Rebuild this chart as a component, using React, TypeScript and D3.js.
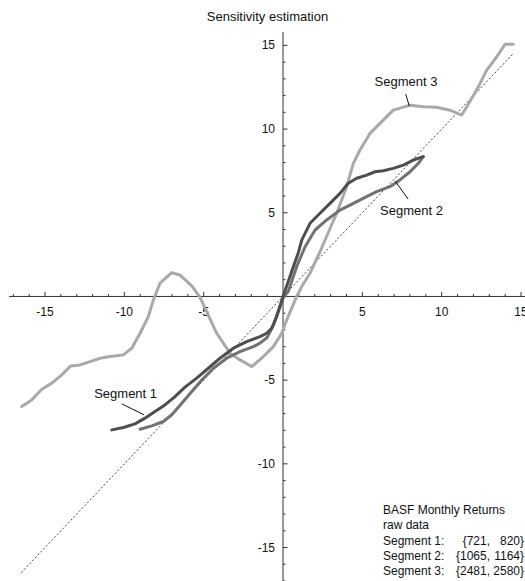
import React from 'react';
import * as d3 from 'd3';

// Sensitivity curves, [x, y] in percent returns
const segment1: [number, number][] = [
  [-10.79, -7.97], [-10.06, -7.83], [-9.33, -7.61], [-8.7, -7.27], [-8.07, -6.88],
  [-7.44, -6.48], [-6.81, -5.98], [-6.18, -5.42], [-5.44, -4.88], [-4.71, -4.29],
  [-3.97, -3.69], [-3.13, -3.09], [-2.29, -2.7], [-1.45, -2.4], [-1.03, -2.2],
  [-0.71, -1.9], [-0.4, -1.2], [0, 0], [0.65, 1.78], [0.96, 2.6], [1.18, 3.37],
  [1.7, 4.37], [2.33, 4.97], [2.96, 5.56], [3.59, 6.16], [4.11, 6.76], [4.64, 7.06],
  [5.27, 7.25], [5.8, 7.45], [6.32, 7.51], [6.95, 7.65], [7.58, 7.85], [8.21, 8.15],
  [8.84, 8.35],
];

const segment2: [number, number][] = [
  [-9.01, -7.93], [-8.27, -7.73], [-7.54, -7.47], [-7.01, -7.07], [-6.38, -6.38],
  [-5.75, -5.68], [-5.12, -4.99], [-4.39, -4.29], [-3.55, -3.69], [-2.71, -3.3],
  [-1.87, -3.0], [-1.45, -2.79], [-1.0, -2.45], [-0.6, -1.7], [-0.3, -0.9],
  [0, -0.1], [0.33, 0.3], [0.86, 1.78], [1.39, 2.97], [2.02, 3.97], [2.75, 4.57],
  [3.59, 5.16], [4.43, 5.56], [5.27, 5.96], [5.9, 6.26], [6.74, 6.56], [7.37, 6.96],
  [8.0, 7.45], [8.53, 7.95], [8.84, 8.35],
];

const segment3: [number, number][] = [
  [-16.47, -6.58], [-15.84, -6.18], [-15.2, -5.54], [-14.57, -5.18], [-13.95, -4.69],
  [-13.38, -4.15], [-12.79, -4.09], [-12.16, -3.89], [-11.53, -3.69], [-10.9, -3.59],
  [-10.06, -3.49], [-9.53, -3.09], [-9.01, -2.2], [-8.49, -1.2], [-8.17, -0.21],
  [-7.75, 0.79], [-7.01, 1.42], [-6.49, 1.28], [-5.75, 0.63], [-5.23, -0.06],
  [-4.18, -2.2], [-3.34, -3.39], [-2.71, -3.79], [-1.97, -4.19], [-1.24, -3.59],
  [-0.61, -3.0], [-0.08, -2.2], [0.23, -1.4], [0.55, -0.7], [0.86, 0], [1.18, 0.59],
  [1.7, 1.39], [2.33, 2.67], [2.8, 3.7], [3.38, 4.97], [4.01, 6.56], [4.43, 7.95],
  [4.85, 8.75], [5.48, 9.74], [6.11, 10.34], [6.95, 11.13], [8.0, 11.43], [8.84, 11.33],
  [9.68, 11.3], [10.52, 11.13], [11.26, 10.84], [11.58, 11.33], [12.2, 12.33],
  [12.84, 13.52], [13.47, 14.32], [13.99, 15.07], [14.51, 15.07],
];

const segmentNames = ['Segment 1', 'Segment 2', 'Segment 3'];
const segmentRanges: [number, number][] = [[721, 820], [1065, 1164], [2481, 2580]];
const segmentColors = ['#4e4e4e', '#727272', '#a9a9a9'];

// Callouts: label centre and leader line, in data coordinates
const callouts = [
  { label: [-9.92, -5.82], from: [-10.16, -6.42], to: [-8.76, -7.07] },
  { label: [8.1, 5.12], from: [7.88, 5.82], to: [7.06, 6.9] },
  { label: [7.75, 12.82], from: [7.73, 12.09], to: [7.96, 11.37] },
];

const majorTicks = [-15, -10, -5, 5, 10, 15];
const diagonalExtent = [-16.5, 14.5];
const title = 'Sensitivity estimation';
const noteLines = ['BASF Monthly Returns', 'raw data'];

const W = 525;
const H = 581;
const FONT = '"Liberation Sans", Arial, sans-serif';

export default function App() {
  const x = d3.scaleLinear().domain([-17.27, 15.25]).range([9, 525]);
  const y = d3.scaleLinear().domain([-17, 15.8]).range([581, 32]);
  const line = d3
    .line<[number, number]>()
    .x((d) => x(d[0]))
    .y((d) => y(d[1]));

  const x0 = x(0);
  const y0 = y(0);
  const xMinor = d3.range(Math.ceil(x.domain()[0]), Math.floor(x.domain()[1]) + 1).filter((v) => v !== 0);
  const yMinor = d3.range(Math.ceil(y.domain()[0]), Math.floor(y.domain()[1]) + 1).filter((v) => v !== 0);
  const isMajor = (v: number) => majorTicks.includes(v);

  const segments = [segment1, segment2, segment3];
  const rowStart = 510;
  const rowStep = 15.25;

  return (
    <svg
      width={W}
      height={H}
      style={{ position: 'absolute', left: 0, top: 0, background: '#fff' }}
      fontFamily={FONT}
      fontSize={12}
    >
      <text x={267.5} y={21} textAnchor="middle" fill="#111" fontSize={13}>{title}</text>

      {/* axes */}
      <line x1={x.range()[0]} x2={x.range()[1]} y1={y0} y2={y0} stroke="#333" strokeWidth={1} />
      <line x1={x0} x2={x0} y1={y.range()[1]} y2={y.range()[0]} stroke="#333" strokeWidth={1} />
      {xMinor.map((v) => (
        <line key={'xt' + v} x1={x(v)} x2={x(v)} y1={y0} y2={y0 - (isMajor(v) ? 4.5 : 2.5)} stroke="#333" strokeWidth={1} />
      ))}
      {yMinor.map((v) => (
        <line key={'yt' + v} x1={x0} x2={x0 + (isMajor(v) ? 4.5 : 2.5)} y1={y(v)} y2={y(v)} stroke="#333" strokeWidth={1} />
      ))}
      {majorTicks.map((v) => (
        <text key={'xl' + v} x={x(v)} y={y0 + 20} textAnchor="middle" fill="#111">{v}</text>
      ))}
      {majorTicks.map((v) => (
        <text key={'yl' + v} x={x0 - 8} y={y(v) + 4} textAnchor="end" fill="#111">{v}</text>
      ))}

      {/* reference diagonal y = x */}
      <line
        x1={x(diagonalExtent[0])}
        y1={y(diagonalExtent[0])}
        x2={x(diagonalExtent[1])}
        y2={y(diagonalExtent[1])}
        stroke="#444"
        strokeWidth={1}
        strokeDasharray="2,2"
      />

      {/* curves, lightest first */}
      {[2, 1, 0].map((i) => (
        <path
          key={'seg' + i}
          d={line(segments[i]) || ''}
          fill="none"
          stroke={segmentColors[i]}
          strokeWidth={3}
          strokeLinejoin="round"
          strokeLinecap="round"
        />
      ))}

      {/* callouts */}
      {callouts.map((c, i) => (
        <g key={'c' + i}>
          <line x1={x(c.from[0])} y1={y(c.from[1])} x2={x(c.to[0])} y2={y(c.to[1])} stroke="#111" strokeWidth={1} />
          <text x={x(c.label[0])} y={y(c.label[1]) + 4.5} textAnchor="middle" fill="#111" fontSize={13}>
            {segmentNames[i]}
          </text>
        </g>
      ))}

      {/* notes */}
      {noteLines.map((t, i) => (
        <text key={'n' + i} x={383} y={rowStart + 4 + i * rowStep} fill="#111">{t}</text>
      ))}
      {segmentRanges.map((r, i) => {
        const ty = rowStart + 4 + (i + 2) * rowStep;
        return (
          <g key={'r' + i}>
            <text x={383} y={ty} fill="#111">{segmentNames[i] + ':'}</text>
            <text x={490} y={ty} textAnchor="end" fill="#111">{'{' + r[0] + ','}</text>
            <text x={524} y={ty} textAnchor="end" fill="#111">{r[1] + '}'}</text>
          </g>
        );
      })}
    </svg>
  );
}
